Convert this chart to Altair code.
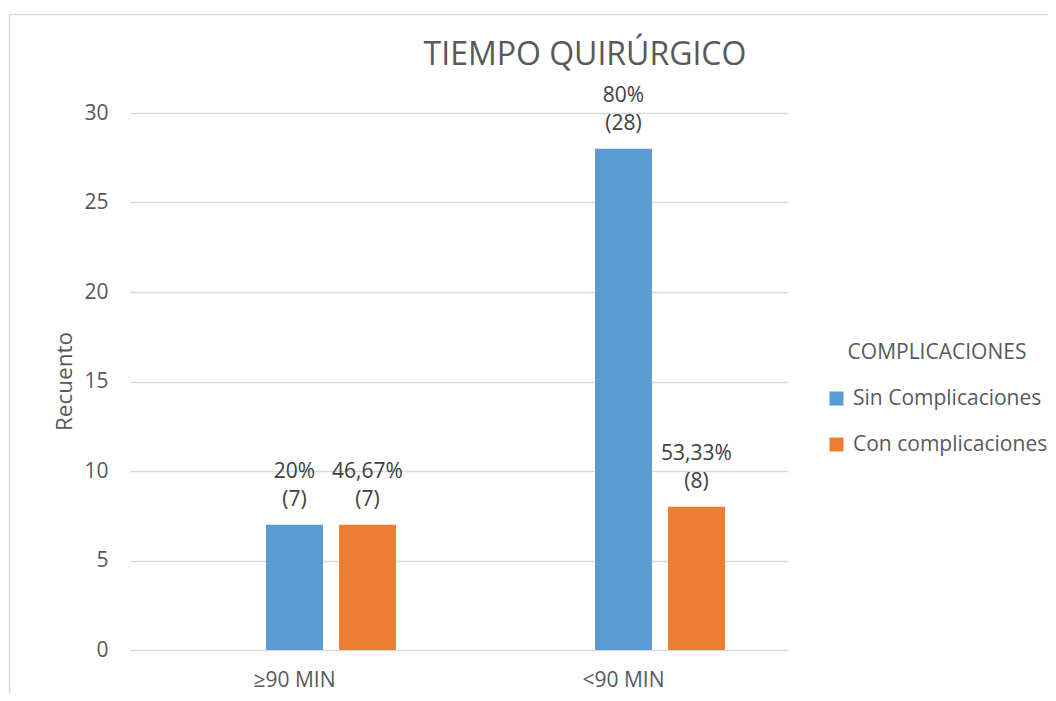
import altair as alt
import pandas as pd

categories = ["≥90 MIN", "<90 MIN"]
series = ["Sin Complicaciones", "Con complicaciones"]
sin_values = [7, 28]
con_values = [7, 8]
sin_pct = ["20%", "80%"]
con_pct = ["46,67%", "53,33%"]
y_ticks = [0, 5, 10, 15, 20, 25, 30]

rows = []
for i, c in enumerate(categories):
    rows.append({"cat": c, "serie": series[0], "valor": sin_values[i],
                 "pct": sin_pct[i], "cnt": f"({sin_values[i]})"})
    rows.append({"cat": c, "serie": series[1], "valor": con_values[i],
                 "pct": con_pct[i], "cnt": f"({con_values[i]})"})
df = pd.DataFrame(rows)

FONT = "Open Sans"
GRAY = "#595959"
LABEL = "#404040"

x_enc = alt.X("cat:N", sort=categories, title=None,
              scale=alt.Scale(paddingInner=0, paddingOuter=0),
              axis=alt.Axis(labelAngle=0, domain=False, ticks=False, grid=False,
                            labelFont=FONT, labelFontSize=21, labelColor=GRAY,
                            labelPadding=19))
xoff_enc = alt.XOffset("serie:N",
                       scale=alt.Scale(domain=["__"] + series,
                                       paddingInner=0.22, paddingOuter=0.863))
y_scale = alt.Scale(domain=[0, 30])

base = alt.Chart(df)

bars = base.mark_bar().encode(
    x=x_enc,
    xOffset=xoff_enc,
    y=alt.Y("valor:Q", scale=y_scale, title="Recuento",
            axis=alt.Axis(values=y_ticks, domain=False, ticks=False,
                          gridColor="#D9D9D9", gridWidth=1.3,
                          labelFont=FONT, labelFontSize=21, labelColor=GRAY,
                          labelPadding=22,
                          titleFont=FONT, titleFontSize=22.5, titleColor=GRAY,
                          titleFontWeight="normal", titleAngle=-90,
                          titleX=-59, titleY=268, titleAlign="center",
                          titleBaseline="alphabetic")),
    color=alt.Color("serie:N",
                    scale=alt.Scale(domain=series, range=["#5B9BD5", "#ED7D31"]),
                    legend=alt.Legend(title="COMPLICACIONES", orient="none",
                                      legendX=696, legendY=229,
                                      symbolType="square", symbolSize=196,
                                      symbolStrokeWidth=0, labelOffset=6,
                                      labelFont=FONT, labelFontSize=21,
                                      labelColor=GRAY, labelLimit=400,
                                      titleFont=FONT, titleFontSize=21,
                                      titleColor=GRAY, titleFontWeight="normal",
                                      titleAnchor="middle", titlePadding=25,
                                      rowPadding=24, padding=0)),
)

cnt_text = base.mark_text(baseline="alphabetic", dy=-19, font=FONT,
                          fontSize=21, color=LABEL).encode(
    x=x_enc, xOffset=xoff_enc, y=alt.Y("valor:Q", scale=y_scale), text="cnt:N")
pct_text = base.mark_text(baseline="alphabetic", dy=-47, font=FONT,
                          fontSize=21, color=LABEL).encode(
    x=x_enc, xOffset=xoff_enc, y=alt.Y("valor:Q", scale=y_scale), text="pct:N")

frame = alt.Chart(pd.DataFrame({"k": [0]})).mark_rect(
    fill=None, stroke="#D9D9D9", strokeWidth=1.5).encode(
    x=alt.value(-120.5), x2=alt.value(1000),
    y=alt.value(-98.5), y2=alt.value(700))

chart = alt.layer(frame, bars, cnt_text, pct_text).properties(
    width=658, height=537,
    padding={"left": 122, "top": 105, "right": 260, "bottom": 43},
    autosize=alt.AutoSizeParams(type="none"),
    title=alt.TitleParams("TIEMPO QUIRÚRGICO", anchor="middle", dx=126,
                          font=FONT, fontSize=32, fontWeight="normal",
                          color=GRAY, baseline="alphabetic", offset=-83),
).configure_view(stroke=None)

chart.save("out.html", embed_options={"renderer": "svg", "actions": False})
